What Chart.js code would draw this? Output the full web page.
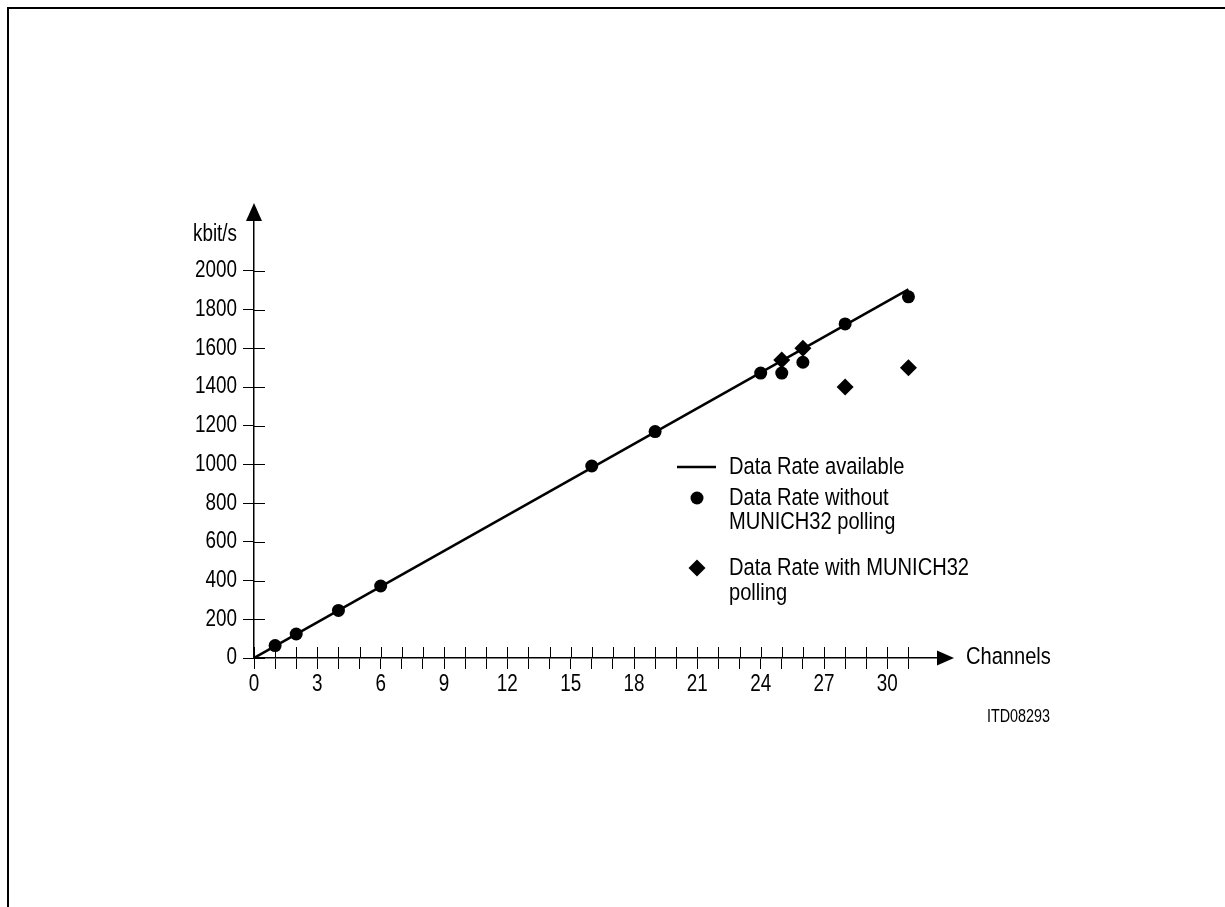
<!DOCTYPE html>
<html>
<head>
<meta charset="utf-8">
<script src="https://cdn.jsdelivr.net/npm/chart.js@4"></script>
<style>
  html, body { margin: 0; padding: 0; background: #fff; }
  #wrap { position: relative; width: 1225px; height: 907px; overflow: hidden; }
  #frame {
    position: absolute; left: 7px; top: 7px; right: -10px; bottom: -10px;
    border-top: 2px solid #000; border-left: 2px solid #000;
  }
  #chart { position: absolute; left: 0; top: 0; }
</style>
</head>
<body>
<div id="wrap">
  <div id="frame"></div>
  <canvas id="chart" width="1225" height="907"></canvas>
</div>
<script>
const FONT = "'Liberation Sans', Arial, sans-serif";
// no narrow face installed, so text is squeezed horizontally like Arial Narrow
const NARROW = 0.82;

// available data rate (straight line)
const availChannels = [0, 31];
const availRate = [0, 1905];

// measured, without MUNICH32 polling
const noPollChannels = [1, 2, 4, 6, 16, 19, 24, 25, 26, 28, 31];
const noPollRate = [64, 124, 246, 372, 992, 1170, 1472, 1472, 1528, 1726, 1866];

// measured, with MUNICH32 polling
const pollChannels = [25, 26, 28, 31];
const pollRate = [1540, 1600, 1400, 1500];

const xTickValues = [0, 1, 2, 3, 4, 5, 6, 7, 8, 9, 10, 11, 12, 13, 14, 15,
  16, 17, 18, 19, 20, 21, 22, 23, 24, 25, 26, 27, 28, 29, 30, 31];
const xTickLabels = [0, 3, 6, 9, 12, 15, 18, 21, 24, 27, 30];
const yTickValues = [0, 200, 400, 600, 800, 1000, 1200, 1400, 1600, 1800, 2000];

const legendItems = [
  { symbol: "line", lines: ["Data Rate available"] },
  { symbol: "circle", lines: ["Data Rate without", "MUNICH32 polling"] },
  { symbol: "diamond", lines: ["Data Rate with MUNICH32", "polling"] },
];

const toPoints = (xs, ys) => xs.map((x, i) => ({ x, y: ys[i] }));

const TICK = 11;

function narrowText(ctx, text, x, y, size, align) {
  ctx.save();
  ctx.font = size + "px " + FONT;
  ctx.textAlign = align || "left";
  ctx.textBaseline = "middle";
  ctx.translate(x, y);
  ctx.scale(NARROW, 1);
  ctx.fillText(text, 0, 0);
  ctx.restore();
}

const axisExtras = {
  id: "axisExtras",
  beforeDatasetsDraw(chart) {
    const { ctx, scales } = chart;
    const xs = scales.x, ys = scales.y;
    const x0 = xs.getPixelForValue(0), y0 = ys.getPixelForValue(0);
    ctx.save();
    ctx.strokeStyle = "#000";
    ctx.lineWidth = 1;
    // inner half of tick marks
    xTickValues.forEach((v) => {
      const px = Math.round(xs.getPixelForValue(v)) + 0.5;
      ctx.beginPath();
      ctx.moveTo(px, y0 - TICK);
      ctx.lineTo(px, y0);
      ctx.stroke();
    });
    yTickValues.forEach((v) => {
      const py = Math.round(ys.getPixelForValue(v)) + 0.5;
      ctx.beginPath();
      ctx.moveTo(x0, py);
      ctx.lineTo(x0 + TICK, py);
      ctx.stroke();
    });
    ctx.restore();
  },
  afterDraw(chart) {
    const { ctx, chartArea, scales } = chart;
    const x0 = scales.x.getPixelForValue(0);
    const y0 = scales.y.getPixelForValue(0);
    ctx.save();
    ctx.fillStyle = "#000";

    // tick labels
    xTickLabels.forEach((v) => {
      narrowText(ctx, String(v), scales.x.getPixelForValue(v), y0 + 27, 23, "center");
    });
    yTickValues.forEach((v) => {
      narrowText(ctx, String(v), x0 - 17, scales.y.getPixelForValue(v), 23, "right");
    });

    // arrow heads
    ctx.beginPath();
    ctx.moveTo(x0, chartArea.top - 17);
    ctx.lineTo(x0 - 8, chartArea.top + 1);
    ctx.lineTo(x0 + 8, chartArea.top + 1);
    ctx.closePath();
    ctx.fill();
    ctx.beginPath();
    ctx.moveTo(chartArea.right + 16, y0);
    ctx.lineTo(chartArea.right - 1, y0 - 7.5);
    ctx.lineTo(chartArea.right - 1, y0 + 7.5);
    ctx.closePath();
    ctx.fill();

    // axis titles
    narrowText(ctx, "kbit/s", x0 - 17, 235, 23, "right");
    narrowText(ctx, "Channels", chartArea.right + 28, y0 - 1, 24.5, "left");
    narrowText(ctx, "ITD08293", 1050, 717, 17.5, "right");

    // legend
    const lx = 729;
    const rows = [[467], [498, 522], [568, 593]];
    legendItems.forEach((item, i) => {
      const ys = rows[i];
      item.lines.forEach((t, j) => narrowText(ctx, t, lx, ys[j], 24.5, "left"));
      const cy = ys[0];
      if (item.symbol === "line") {
        ctx.lineWidth = 2.5;
        ctx.beginPath();
        ctx.moveTo(677, cy);
        ctx.lineTo(716, cy);
        ctx.stroke();
      } else if (item.symbol === "circle") {
        ctx.beginPath();
        ctx.arc(697, cy, 6.5, 0, Math.PI * 2);
        ctx.fill();
      } else {
        ctx.beginPath();
        ctx.moveTo(697, cy - 8.5);
        ctx.lineTo(705.5, cy);
        ctx.lineTo(697, cy + 8.5);
        ctx.lineTo(688.5, cy);
        ctx.closePath();
        ctx.fill();
      }
    });
    ctx.restore();
  },
};

const axisCommon = {
  type: "linear",
  grid: { drawOnChartArea: false, drawTicks: true, tickLength: TICK, color: "#000", lineWidth: 1 },
  border: { display: true, color: "#000", width: 1.5 },
  ticks: { display: false },
};

new Chart(document.getElementById("chart"), {
  type: "scatter",
  data: {
    datasets: [
      {
        label: "Data Rate with MUNICH32 polling",
        data: toPoints(pollChannels, pollRate),
        pointStyle: "rectRot",
        pointRadius: 8.5,
        backgroundColor: "#000",
        borderColor: "#000",
        borderWidth: 0,
      },
      {
        label: "Data Rate without MUNICH32 polling",
        data: toPoints(noPollChannels, noPollRate),
        pointStyle: "circle",
        pointRadius: 6.5,
        backgroundColor: "#000",
        borderColor: "#000",
        borderWidth: 0,
      },
      {
        label: "Data Rate available",
        data: toPoints(availChannels, availRate),
        showLine: true,
        borderColor: "#000",
        borderWidth: 2.5,
        pointRadius: 0,
        fill: false,
      },
    ],
  },
  options: {
    responsive: false,
    animation: false,
    devicePixelRatio: 1,
    layout: { padding: { left: 200, right: 287, top: 220, bottom: 199 } },
    plugins: { legend: { display: false }, tooltip: { enabled: false } },
    scales: {
      x: {
        ...axisCommon,
        position: "bottom",
        min: 0,
        max: 32.4,
        afterBuildTicks: (s) => { s.ticks = xTickValues.map((v) => ({ value: v })); },
        afterFit: (s) => { s.height = 50; },
      },
      y: {
        ...axisCommon,
        position: "left",
        min: 0,
        max: 2263,
        afterBuildTicks: (s) => { s.ticks = yTickValues.map((v) => ({ value: v })); },
        afterFit: (s) => { s.width = 54; },
      },
    },
  },
  plugins: [axisExtras],
});
</script>
</body>
</html>
